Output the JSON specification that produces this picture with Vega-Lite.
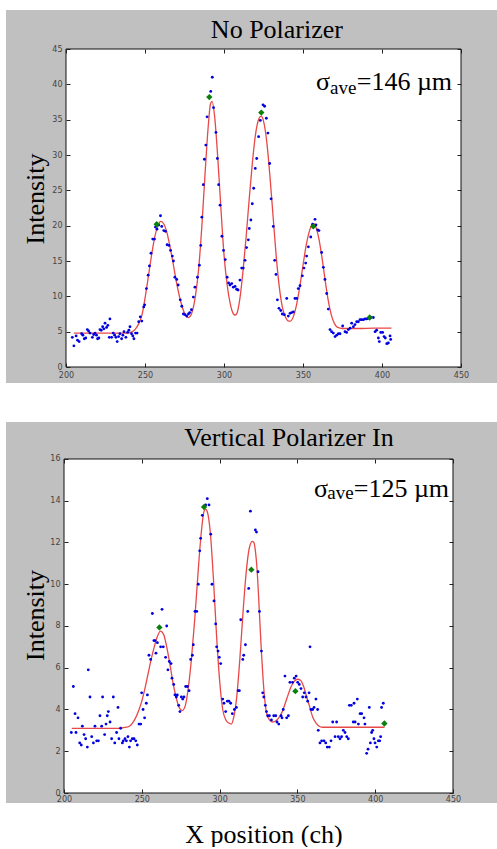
{
  "$schema": "https://vega.github.io/schema/vega-lite/v6.json",
  "background": "white",
  "padding": {"left": 6, "top": 10, "right": 0, "bottom": 0},
  "spacing": 39,
  "config": {
    "view": {"fill": "#c0c0c0", "stroke": null},
    "text": {"font": "Liberation Serif", "color": "#000"},
    "axis": {
      "domain": false, "grid": false, "tickSize": -4, "labelPadding": 8,
      "labelFlush": false, "labelOverlap": false, "labelFont": "DejaVu Sans",
      "labelFontSize": 8, "labelColor": "#444", "tickColor": "#222", "tickWidth": 1,
      "titleFont": "Liberation Serif", "titleFontSize": 26, "titleFontWeight": "normal", "titleColor": "#000"
    }
  },
  "datasets": {
    "top_pts": [
      {"x":204,"y":4.2},{"x":205,"y":3.0},{"x":206.4,"y":4.4},{"x":207.3,"y":3.8},{"x":208.3,"y":3.6},{"x":209.9,"y":4.7},{"x":210.7,"y":4.5},{"x":211.6,"y":4.0},{"x":212.5,"y":4.1},{"x":213.5,"y":5.3},{"x":214.3,"y":5.1},{"x":215.2,"y":4.8},{"x":216.7,"y":4.2},{"x":217.5,"y":4.6},{"x":218.4,"y":4.8},{"x":219.3,"y":4.5},{"x":220,"y":4.0},{"x":220.8,"y":4.1},{"x":221.5,"y":5.3},{"x":222.3,"y":5.2},{"x":223.2,"y":5.7},{"x":224,"y":5.4},{"x":224.7,"y":6.2},{"x":225.7,"y":5.6},{"x":226.5,"y":5.9},{"x":227.4,"y":4.2},{"x":227.8,"y":6.8},{"x":228.9,"y":4.2},{"x":229.9,"y":4.8},{"x":230.8,"y":4.5},{"x":231.6,"y":4.2},{"x":232.4,"y":3.6},{"x":233.3,"y":4.3},{"x":234.1,"y":4.7},{"x":235.2,"y":4.0},{"x":236,"y":4.5},{"x":236.7,"y":5.0},{"x":237.9,"y":4.2},{"x":239,"y":4.9},{"x":239.8,"y":5.2},{"x":240.5,"y":5.7},{"x":241.5,"y":4.7},{"x":242.3,"y":4.4},{"x":243,"y":4.0},{"x":244,"y":4.8},{"x":245,"y":4.8},{"x":246,"y":6.4},{"x":247,"y":7.1},{"x":248,"y":6.5},{"x":249.2,"y":8.5},{"x":249.8,"y":8.8},{"x":250.9,"y":11.1},{"x":252,"y":13.0},{"x":252.8,"y":14.3},{"x":253.8,"y":16.1},{"x":254.9,"y":18.1},{"x":256,"y":18.1},{"x":256.6,"y":19.8},{"x":257.6,"y":19.5},{"x":258.7,"y":20.1},{"x":259.8,"y":21.4},{"x":260.6,"y":19.9},{"x":261.9,"y":19.3},{"x":263,"y":19.2},{"x":264,"y":17.3},{"x":265.2,"y":17.2},{"x":266.2,"y":16.5},{"x":267.3,"y":15.7},{"x":268,"y":15.0},{"x":268.9,"y":12.7},{"x":270.1,"y":12.4},{"x":271,"y":11.6},{"x":272.3,"y":9.5},{"x":273.3,"y":8.6},{"x":274.3,"y":7.5},{"x":275.4,"y":7.4},{"x":276.4,"y":7.2},{"x":277.5,"y":7.5},{"x":278.3,"y":7.7},{"x":279.4,"y":8.1},{"x":280.6,"y":9.9},{"x":281.6,"y":11.3},{"x":283.2,"y":12.7},{"x":284.4,"y":14.4},{"x":285.3,"y":17.2},{"x":286,"y":21.2},{"x":286.9,"y":25.8},{"x":287.6,"y":29.4},{"x":288.5,"y":31.4},{"x":289.3,"y":35.4},{"x":291.6,"y":39.0},{"x":292.6,"y":41.0},{"x":293.4,"y":36.7},{"x":294.9,"y":33.2},{"x":295.8,"y":29.5},{"x":296.6,"y":25.8},{"x":297.5,"y":22.9},{"x":298.7,"y":18.5},{"x":299.7,"y":16.5},{"x":300.8,"y":15.2},{"x":302,"y":12.7},{"x":302.9,"y":11.9},{"x":303.8,"y":11.6},{"x":304.9,"y":11.8},{"x":305.9,"y":11.3},{"x":307,"y":11.4},{"x":308,"y":11.0},{"x":308.9,"y":10.9},{"x":310.1,"y":12.3},{"x":311.2,"y":14.0},{"x":312.2,"y":14.0},{"x":313.3,"y":15.1},{"x":314.3,"y":16.9},{"x":315.4,"y":18.0},{"x":316,"y":19.6},{"x":317,"y":20.8},{"x":317.9,"y":23.1},{"x":318.8,"y":25.3},{"x":319.8,"y":28.1},{"x":320.7,"y":29.5},{"x":321.9,"y":32.6},{"x":323,"y":34.9},{"x":324.7,"y":37.1},{"x":325.7,"y":36.9},{"x":326.8,"y":35.2},{"x":327.8,"y":33.1},{"x":328.9,"y":28.8},{"x":329.8,"y":23.8},{"x":331.2,"y":19.9},{"x":332.1,"y":15.1},{"x":332.9,"y":13.1},{"x":333.8,"y":9.5},{"x":334.8,"y":8.3},{"x":335.9,"y":8.0},{"x":336.9,"y":7.5},{"x":338.2,"y":7.4},{"x":339.7,"y":9.7},{"x":340.7,"y":7.2},{"x":341.8,"y":7.6},{"x":342.8,"y":7.7},{"x":343.9,"y":7.8},{"x":344.9,"y":9.7},{"x":346,"y":9.7},{"x":347,"y":11.1},{"x":348.1,"y":11.5},{"x":349.6,"y":12.9},{"x":350.6,"y":14.0},{"x":351.7,"y":14.7},{"x":352.3,"y":15.7},{"x":353.4,"y":17.0},{"x":354.9,"y":18.4},{"x":356.1,"y":20.2},{"x":357.6,"y":20.9},{"x":358.2,"y":20.1},{"x":359.3,"y":19.4},{"x":360.1,"y":19.3},{"x":361.8,"y":16.2},{"x":362.9,"y":14.1},{"x":363.9,"y":12.4},{"x":365,"y":10.4},{"x":366,"y":8.2},{"x":367.1,"y":5.3},{"x":368.1,"y":5.0},{"x":369.2,"y":4.8},{"x":370.3,"y":4.3},{"x":371.3,"y":4.5},{"x":372.4,"y":4.7},{"x":373.4,"y":4.7},{"x":375.1,"y":5.8},{"x":376.6,"y":5.0},{"x":377.6,"y":4.9},{"x":378.7,"y":5.3},{"x":379.8,"y":5.5},{"x":380.8,"y":6.2},{"x":381.9,"y":5.7},{"x":382.9,"y":6.0},{"x":384,"y":6.4},{"x":385,"y":6.4},{"x":386.1,"y":6.7},{"x":387.1,"y":6.7},{"x":388.2,"y":6.7},{"x":389.2,"y":6.8},{"x":390.3,"y":6.8},{"x":391.3,"y":6.9},{"x":393,"y":7.0},{"x":394.5,"y":7.0},{"x":395.6,"y":5.0},{"x":396.6,"y":5.2},{"x":397.7,"y":4.1},{"x":398.3,"y":3.6},{"x":399.2,"y":4.9},{"x":400.4,"y":4.9},{"x":401.3,"y":4.3},{"x":402.1,"y":4.1},{"x":403,"y":3.3},{"x":404,"y":3.4},{"x":405.1,"y":4.4},{"x":405.5,"y":3.9}
    ],
    "top_fit": [
      {"x":205,"y":4.8},{"x":215,"y":4.8},{"x":225,"y":4.8},{"x":235,"y":4.8},{"x":240,"y":4.85},{"x":242,"y":5.0},{"x":244,"y":5.4},{"x":246,"y":6.1},{"x":248,"y":7.3},{"x":250,"y":9.7},{"x":252,"y":12.6},{"x":254,"y":15.6},{"x":256,"y":18.2},{"x":258,"y":19.9},{"x":260,"y":20.6},{"x":262,"y":20.2},{"x":264,"y":18.9},{"x":266,"y":16.8},{"x":268,"y":14.4},{"x":270,"y":11.9},{"x":272,"y":9.8},{"x":274,"y":8.2},{"x":276,"y":7.2},{"x":277.5,"y":7.0},{"x":279,"y":7.3},{"x":280,"y":7.9},{"x":282,"y":10.2},{"x":284,"y":14.0},{"x":286,"y":20.0},{"x":288,"y":27.3},{"x":290,"y":34.0},{"x":291.5,"y":37.3},{"x":292.5,"y":37.6},{"x":294,"y":35.6},{"x":296,"y":29.8},{"x":298,"y":22.6},{"x":300,"y":15.9},{"x":302,"y":11.6},{"x":304,"y":8.9},{"x":306,"y":7.5},{"x":307,"y":7.35},{"x":308,"y":7.5},{"x":310,"y":9.6},{"x":312,"y":13.5},{"x":314,"y":18.4},{"x":316,"y":23.9},{"x":318,"y":29.0},{"x":320,"y":33.0},{"x":322,"y":35.1},{"x":323.5,"y":35.5},{"x":325,"y":34.8},{"x":327,"y":32.0},{"x":329,"y":27.2},{"x":331,"y":21.5},{"x":333,"y":15.8},{"x":335,"y":11.3},{"x":337,"y":8.4},{"x":339,"y":7.0},{"x":341,"y":6.5},{"x":342,"y":6.5},{"x":344,"y":7.2},{"x":346,"y":8.9},{"x":348,"y":11.4},{"x":350,"y":14.4},{"x":352,"y":17.2},{"x":354,"y":19.2},{"x":356,"y":20.2},{"x":357,"y":20.3},{"x":358,"y":19.9},{"x":360,"y":18.2},{"x":362,"y":15.5},{"x":364,"y":12.3},{"x":366,"y":9.4},{"x":368,"y":7.3},{"x":370,"y":6.1},{"x":372,"y":5.6},{"x":375,"y":5.45},{"x":385,"y":5.45},{"x":395,"y":5.5},{"x":406,"y":5.5}
    ],
    "top_peaks": [
      {"x":257.4,"y":20.2},{"x":290.7,"y":38.2},{"x":323.6,"y":36.0},{"x":356.5,"y":19.9},{"x":392.2,"y":7.0}
    ],
    "bot_pts": [
      {"x":204.7,"y":2.9},{"x":206,"y":5.1},{"x":207.1,"y":3.8},{"x":207.7,"y":2.9},{"x":209,"y":3.6},{"x":210.1,"y":2.4},{"x":211.1,"y":2.3},{"x":211.8,"y":3.2},{"x":212.9,"y":2.8},{"x":213.9,"y":2.6},{"x":215,"y":2.2},{"x":215.6,"y":5.9},{"x":216.7,"y":4.6},{"x":217.8,"y":2.7},{"x":218.9,"y":2.4},{"x":219.9,"y":3.2},{"x":221,"y":2.5},{"x":222.1,"y":2.5},{"x":223.1,"y":3.7},{"x":224.2,"y":3.2},{"x":224.8,"y":4.6},{"x":226.1,"y":2.8},{"x":227,"y":3.3},{"x":227.8,"y":3.7},{"x":228.5,"y":3.9},{"x":229.6,"y":3.4},{"x":230.6,"y":2.6},{"x":231.7,"y":4.6},{"x":232.6,"y":2.4},{"x":233.8,"y":2.9},{"x":234.7,"y":4.1},{"x":235.3,"y":2.6},{"x":236.4,"y":3.1},{"x":237.5,"y":2.4},{"x":238.1,"y":2.5},{"x":239.2,"y":2.6},{"x":240.1,"y":2.5},{"x":241.1,"y":2.7},{"x":242,"y":2.2},{"x":242.8,"y":2.5},{"x":243.9,"y":2.6},{"x":245,"y":2.6},{"x":246.1,"y":2.5},{"x":247.1,"y":2.3},{"x":248.2,"y":3.3},{"x":249.3,"y":3.3},{"x":249.9,"y":4.8},{"x":250.8,"y":4.0},{"x":251.8,"y":3.6},{"x":252.9,"y":4.3},{"x":253.6,"y":4.7},{"x":254.6,"y":6.6},{"x":255.7,"y":6.4},{"x":256.8,"y":8.6},{"x":257.8,"y":7.3},{"x":258.5,"y":7.3},{"x":259.1,"y":6.7},{"x":260,"y":7.2},{"x":262.1,"y":7.0},{"x":263,"y":8.8},{"x":263.8,"y":7.0},{"x":265.3,"y":6.5},{"x":266,"y":8.0},{"x":266.8,"y":5.9},{"x":267.7,"y":6.3},{"x":268.8,"y":6.2},{"x":269.4,"y":5.5},{"x":270.5,"y":5.2},{"x":271.3,"y":4.7},{"x":272.2,"y":4.6},{"x":272.8,"y":4.7},{"x":273.7,"y":4.2},{"x":274.5,"y":3.9},{"x":275.4,"y":4.6},{"x":276.3,"y":4.5},{"x":277.1,"y":4.6},{"x":278.2,"y":5.1},{"x":279.3,"y":5.1},{"x":280.4,"y":4.9},{"x":281.4,"y":6.4},{"x":282.5,"y":6.6},{"x":283.1,"y":7.1},{"x":284.2,"y":8.7},{"x":285.3,"y":8.7},{"x":286.3,"y":10.0},{"x":287.2,"y":11.6},{"x":287.8,"y":12.2},{"x":288.9,"y":13.3},{"x":291,"y":13.8},{"x":292.1,"y":14.1},{"x":293.2,"y":13.8},{"x":294.3,"y":12.4},{"x":295.1,"y":10.0},{"x":296.4,"y":9.2},{"x":297.5,"y":8.1},{"x":298.1,"y":7.0},{"x":299,"y":6.8},{"x":299.8,"y":6.5},{"x":300.7,"y":6.2},{"x":302,"y":4.5},{"x":302.8,"y":4.3},{"x":303.9,"y":3.9},{"x":305,"y":4.4},{"x":306,"y":4.4},{"x":307.1,"y":4.3},{"x":308.2,"y":3.8},{"x":309.5,"y":4.0},{"x":310.8,"y":4.1},{"x":311.9,"y":4.9},{"x":312.7,"y":4.9},{"x":313.6,"y":8.3},{"x":314.9,"y":6.4},{"x":315.5,"y":6.6},{"x":316.6,"y":7.1},{"x":318.1,"y":8.7},{"x":318.7,"y":9.8},{"x":319.8,"y":13.5},{"x":323,"y":12.6},{"x":323.7,"y":12.5},{"x":324.7,"y":10.6},{"x":325.6,"y":8.7},{"x":326.9,"y":6.8},{"x":327.7,"y":4.8},{"x":328.4,"y":4.6},{"x":329.4,"y":4.2},{"x":330.1,"y":3.9},{"x":330.9,"y":3.7},{"x":332,"y":3.7},{"x":333.3,"y":3.5},{"x":334.8,"y":3.7},{"x":336.1,"y":3.7},{"x":336.9,"y":3.4},{"x":338,"y":3.3},{"x":339.5,"y":3.7},{"x":340.1,"y":3.6},{"x":340.9,"y":4.0},{"x":342,"y":5.6},{"x":343.1,"y":3.6},{"x":344.2,"y":3.7},{"x":345.2,"y":5.3},{"x":346.9,"y":5.3},{"x":348,"y":5.5},{"x":349.2,"y":5.6},{"x":350.2,"y":5.3},{"x":351.2,"y":5.2},{"x":352.3,"y":5.0},{"x":353.4,"y":4.6},{"x":354.4,"y":4.8},{"x":355.5,"y":4.6},{"x":356.6,"y":4.4},{"x":357.5,"y":4.8},{"x":358.1,"y":7.0},{"x":358.7,"y":4.0},{"x":359.8,"y":4.0},{"x":360.7,"y":4.1},{"x":361.9,"y":4.5},{"x":363,"y":4.0},{"x":363.4,"y":3.0},{"x":364.5,"y":2.4},{"x":365.6,"y":2.5},{"x":367.1,"y":2.5},{"x":368.2,"y":2.4},{"x":369.2,"y":2.2},{"x":370.5,"y":2.2},{"x":371.6,"y":2.5},{"x":372.7,"y":3.4},{"x":374.2,"y":2.7},{"x":375.2,"y":3.4},{"x":376.3,"y":2.7},{"x":377.4,"y":2.6},{"x":378.4,"y":2.7},{"x":379.5,"y":3.0},{"x":380.6,"y":2.9},{"x":381.7,"y":2.7},{"x":382.7,"y":2.6},{"x":383.4,"y":4.2},{"x":384.6,"y":4.2},{"x":385.9,"y":3.4},{"x":386.4,"y":4.3},{"x":387.1,"y":3.4},{"x":388.5,"y":4.5},{"x":389.2,"y":3.3},{"x":390.3,"y":3.8},{"x":391.3,"y":3.8},{"x":392.8,"y":3.6},{"x":393.4,"y":3.3},{"x":394.5,"y":1.9},{"x":395.4,"y":2.1},{"x":396.2,"y":4.1},{"x":396.9,"y":2.4},{"x":397.7,"y":2.9},{"x":398.4,"y":3.0},{"x":399.2,"y":2.6},{"x":399.9,"y":2.4},{"x":401,"y":2.2},{"x":402,"y":2.5},{"x":402.9,"y":2.5},{"x":403.5,"y":2.7},{"x":404.1,"y":4.1},{"x":405.2,"y":4.3}
    ],
    "bot_fit": [
      {"x":205,"y":3.1},{"x":215,"y":3.1},{"x":225,"y":3.1},{"x":235,"y":3.1},{"x":240,"y":3.15},{"x":242,"y":3.2},{"x":244,"y":3.35},{"x":246,"y":3.6},{"x":248,"y":3.95},{"x":250,"y":4.4},{"x":252,"y":5.0},{"x":254,"y":5.7},{"x":256,"y":6.4},{"x":258,"y":7.0},{"x":260,"y":7.5},{"x":262,"y":7.75},{"x":264,"y":7.6},{"x":266,"y":7.0},{"x":268,"y":6.2},{"x":270,"y":5.3},{"x":272,"y":4.6},{"x":274,"y":4.1},{"x":276,"y":3.95},{"x":278,"y":4.2},{"x":280,"y":5.1},{"x":282,"y":6.5},{"x":284,"y":8.3},{"x":286,"y":10.4},{"x":288,"y":12.3},{"x":290,"y":13.5},{"x":291,"y":13.6},{"x":292,"y":13.5},{"x":294,"y":12.5},{"x":296,"y":10.3},{"x":298,"y":7.6},{"x":300,"y":5.4},{"x":302,"y":4.0},{"x":304,"y":3.5},{"x":306,"y":3.35},{"x":307.5,"y":3.3},{"x":309,"y":3.6},{"x":311,"y":4.6},{"x":313,"y":6.4},{"x":315,"y":8.6},{"x":317,"y":10.5},{"x":319,"y":11.7},{"x":321,"y":12.05},{"x":322,"y":12.0},{"x":323,"y":11.6},{"x":324,"y":10.8},{"x":325,"y":9.5},{"x":326,"y":8.0},{"x":327,"y":6.6},{"x":328,"y":5.4},{"x":330,"y":3.9},{"x":332,"y":3.5},{"x":334,"y":3.4},{"x":336,"y":3.45},{"x":338,"y":3.6},{"x":340,"y":3.85},{"x":342,"y":4.25},{"x":344,"y":4.7},{"x":346,"y":5.1},{"x":348,"y":5.35},{"x":350,"y":5.45},{"x":352,"y":5.4},{"x":354,"y":5.1},{"x":356,"y":4.6},{"x":358,"y":4.1},{"x":360,"y":3.6},{"x":362,"y":3.35},{"x":364,"y":3.2},{"x":366,"y":3.15},{"x":375,"y":3.15},{"x":385,"y":3.15},{"x":395,"y":3.15},{"x":406,"y":3.15}
    ],
    "bot_peaks": [
      {"x":261.3,"y":7.93},{"x":290,"y":13.7},{"x":320.4,"y":10.7},{"x":348.7,"y":4.88},{"x":405.9,"y":3.33}
    ]
  },
  "vconcat": [
    {
      "width": 491, "height": 373,
      "resolve": {"axis": {"x": "independent", "y": "independent"}},
      "layer": [
        {
          "data": {"values": [{}]},
          "mark": {"type": "rect", "fill": "white", "stroke": "#111", "strokeWidth": 1},
          "encoding": {
            "x": {"datum": 200, "type": "quantitative", "scale": {"domain": [162.03, 472.78], "nice": false, "zero": false}, "axis": null},
            "x2": {"datum": 450},
            "y": {"datum": 0, "type": "quantitative", "scale": {"domain": [-2.264, 50.52], "nice": false, "zero": false}, "axis": null},
            "y2": {"datum": 45}
          }
        },
        {
          "data": {"name": "top_fit"},
          "mark": {"type": "line", "color": "#e84848", "strokeWidth": 1.3, "interpolate": "monotone"},
          "encoding": {
            "x": {"field": "x", "type": "quantitative", "scale": {"domain": [162.03, 472.78], "nice": false, "zero": false},
              "axis": {"orient": "top", "offset": -39, "values": [200,250,300,350,400,450], "labels": false, "title": null, "zindex": 1}},
            "y": {"field": "y", "type": "quantitative", "scale": {"domain": [-2.264, 50.52], "nice": false, "zero": false},
              "axis": {"orient": "right", "offset": -36, "values": [0,5,10,15,20,25,30,35,40,45], "labels": false, "title": null, "zindex": 1}}
          }
        },
        {
          "data": {"name": "top_pts"},
          "mark": {"type": "circle", "color": "#0000e0", "size": 8, "opacity": 1},
          "encoding": {
            "x": {"field": "x", "type": "quantitative", "scale": {"domain": [162.03, 472.78], "nice": false, "zero": false},
              "axis": {"orient": "bottom", "offset": -16, "values": [200,250,300,350,400,450], "title": null, "zindex": 1}},
            "y": {"field": "y", "type": "quantitative", "scale": {"domain": [-2.264, 50.52], "nice": false, "zero": false},
              "axis": {"orient": "left", "offset": -60, "values": [0,5,10,15,20,25,30,35,40,45], "title": "Intensity", "zindex": 1,
                "titleX": -23, "titleY": 188.5, "titleAngle": 270, "titleAlign": "center", "titleBaseline": "alphabetic"}}
          }
        },
        {
          "data": {"name": "top_peaks"},
          "mark": {"type": "point", "shape": "diamond", "filled": true, "color": "#0a800a", "size": 40, "opacity": 1},
          "encoding": {
            "x": {"field": "x", "type": "quantitative", "scale": {"domain": [162.03, 472.78], "nice": false, "zero": false}, "axis": null},
            "y": {"field": "y", "type": "quantitative", "scale": {"domain": [-2.264, 50.52], "nice": false, "zero": false}, "axis": null}
          }
        },
        {
          "data": {"values": [{}]},
          "mark": {"type": "text", "text": "No Polarizer", "fontSize": 26, "align": "center", "baseline": "alphabetic"},
          "encoding": {
            "x": {"datum": 333.5, "type": "quantitative", "scale": {"domain": [162.03, 472.78], "nice": false, "zero": false}, "axis": null},
            "y": {"datum": 46.6, "type": "quantitative", "scale": {"domain": [-2.264, 50.52], "nice": false, "zero": false}, "axis": null}
          }
        },
        {
          "data": {"values": [{}]},
          "mark": {"type": "text", "text": "σ", "fontSize": 26, "align": "left", "baseline": "alphabetic"},
          "encoding": {
            "x": {"datum": 358.2, "type": "quantitative", "scale": {"domain": [162.03, 472.78], "nice": false, "zero": false}, "axis": null},
            "y": {"datum": 39.2, "type": "quantitative", "scale": {"domain": [-2.264, 50.52], "nice": false, "zero": false}, "axis": null}
          }
        },
        {
          "data": {"values": [{}]},
          "mark": {"type": "text", "text": "ave", "fontSize": 19, "align": "left", "baseline": "alphabetic"},
          "encoding": {
            "x": {"datum": 367.1, "type": "quantitative", "scale": {"domain": [162.03, 472.78], "nice": false, "zero": false}, "axis": null},
            "y": {"datum": 38.7, "type": "quantitative", "scale": {"domain": [-2.264, 50.52], "nice": false, "zero": false}, "axis": null}
          }
        },
        {
          "data": {"values": [{}]},
          "mark": {"type": "text", "text": "=146 µm", "fontSize": 26, "align": "left", "baseline": "alphabetic"},
          "encoding": {
            "x": {"datum": 384.0, "type": "quantitative", "scale": {"domain": [162.03, 472.78], "nice": false, "zero": false}, "axis": null},
            "y": {"datum": 39.2, "type": "quantitative", "scale": {"domain": [-2.264, 50.52], "nice": false, "zero": false}, "axis": null}
          }
        }
      ]
    },
    {
      "width": 491, "height": 381,
      "resolve": {"axis": {"x": "independent", "y": "independent"}},
      "layer": [
        {
          "data": {"values": [{}]},
          "mark": {"type": "rect", "fill": "white", "stroke": "#111", "strokeWidth": 1},
          "encoding": {
            "x": {"datum": 200, "type": "quantitative", "scale": {"domain": [162.72, 478.28], "nice": false, "zero": false}, "axis": null},
            "x2": {"datum": 450},
            "y": {"datum": 0, "type": "quantitative", "scale": {"domain": [-0.479, 17.772], "nice": false, "zero": false}, "axis": null},
            "y2": {"datum": 16}
          }
        },
        {
          "data": {"name": "bot_fit"},
          "mark": {"type": "line", "color": "#e84848", "strokeWidth": 1.3, "interpolate": "monotone"},
          "encoding": {
            "x": {"field": "x", "type": "quantitative", "scale": {"domain": [162.72, 478.28], "nice": false, "zero": false},
              "axis": {"orient": "top", "offset": -37, "values": [200,250,300,350,400,450], "labels": false, "title": null, "zindex": 1}},
            "y": {"field": "y", "type": "quantitative", "scale": {"domain": [-0.479, 17.772], "nice": false, "zero": false},
              "axis": {"orient": "right", "offset": -44, "values": [0,2,4,6,8,10,12,14,16], "labels": false, "title": null, "zindex": 1}}
          }
        },
        {
          "data": {"name": "bot_pts"},
          "mark": {"type": "circle", "color": "#0000e0", "size": 8, "opacity": 1},
          "encoding": {
            "x": {"field": "x", "type": "quantitative", "scale": {"domain": [162.72, 478.28], "nice": false, "zero": false},
              "axis": {"orient": "bottom", "offset": -10, "values": [200,250,300,350,400,450], "labelPadding": 6, "title": "X position (ch)", "zindex": 1,
                "titleX": 257.5, "titleY": 49, "titleAlign": "center", "titleBaseline": "alphabetic"}},
            "y": {"field": "y", "type": "quantitative", "scale": {"domain": [-0.479, 17.772], "nice": false, "zero": false},
              "axis": {"orient": "left", "offset": -58, "values": [0,2,4,6,8,10,12,14,16], "title": "Intensity", "zindex": 1,
                "titleX": -21, "titleY": 193, "titleAngle": 270, "titleAlign": "center", "titleBaseline": "alphabetic"}}
          }
        },
        {
          "data": {"name": "bot_peaks"},
          "mark": {"type": "point", "shape": "diamond", "filled": true, "color": "#0a800a", "size": 40, "opacity": 1},
          "encoding": {
            "x": {"field": "x", "type": "quantitative", "scale": {"domain": [162.72, 478.28], "nice": false, "zero": false}, "axis": null},
            "y": {"field": "y", "type": "quantitative", "scale": {"domain": [-0.479, 17.772], "nice": false, "zero": false}, "axis": null}
          }
        },
        {
          "data": {"values": [{}]},
          "mark": {"type": "text", "text": "Vertical Polarizer In", "fontSize": 26, "align": "center", "baseline": "alphabetic"},
          "encoding": {
            "x": {"datum": 344.6, "type": "quantitative", "scale": {"domain": [162.72, 478.28], "nice": false, "zero": false}, "axis": null},
            "y": {"datum": 16.62, "type": "quantitative", "scale": {"domain": [-0.479, 17.772], "nice": false, "zero": false}, "axis": null}
          }
        },
        {
          "data": {"values": [{}]},
          "mark": {"type": "text", "text": "σ", "fontSize": 26, "align": "left", "baseline": "alphabetic"},
          "encoding": {
            "x": {"datum": 360.7, "type": "quantitative", "scale": {"domain": [162.72, 478.28], "nice": false, "zero": false}, "axis": null},
            "y": {"datum": 14.19, "type": "quantitative", "scale": {"domain": [-0.479, 17.772], "nice": false, "zero": false}, "axis": null}
          }
        },
        {
          "data": {"values": [{}]},
          "mark": {"type": "text", "text": "ave", "fontSize": 19, "align": "left", "baseline": "alphabetic"},
          "encoding": {
            "x": {"datum": 369.2, "type": "quantitative", "scale": {"domain": [162.72, 478.28], "nice": false, "zero": false}, "axis": null},
            "y": {"datum": 14.07, "type": "quantitative", "scale": {"domain": [-0.479, 17.772], "nice": false, "zero": false}, "axis": null}
          }
        },
        {
          "data": {"values": [{}]},
          "mark": {"type": "text", "text": "=125 µm", "fontSize": 26, "align": "left", "baseline": "alphabetic"},
          "encoding": {
            "x": {"datum": 386.2, "type": "quantitative", "scale": {"domain": [162.72, 478.28], "nice": false, "zero": false}, "axis": null},
            "y": {"datum": 14.19, "type": "quantitative", "scale": {"domain": [-0.479, 17.772], "nice": false, "zero": false}, "axis": null}
          }
        }
      ]
    }
  ]
}
